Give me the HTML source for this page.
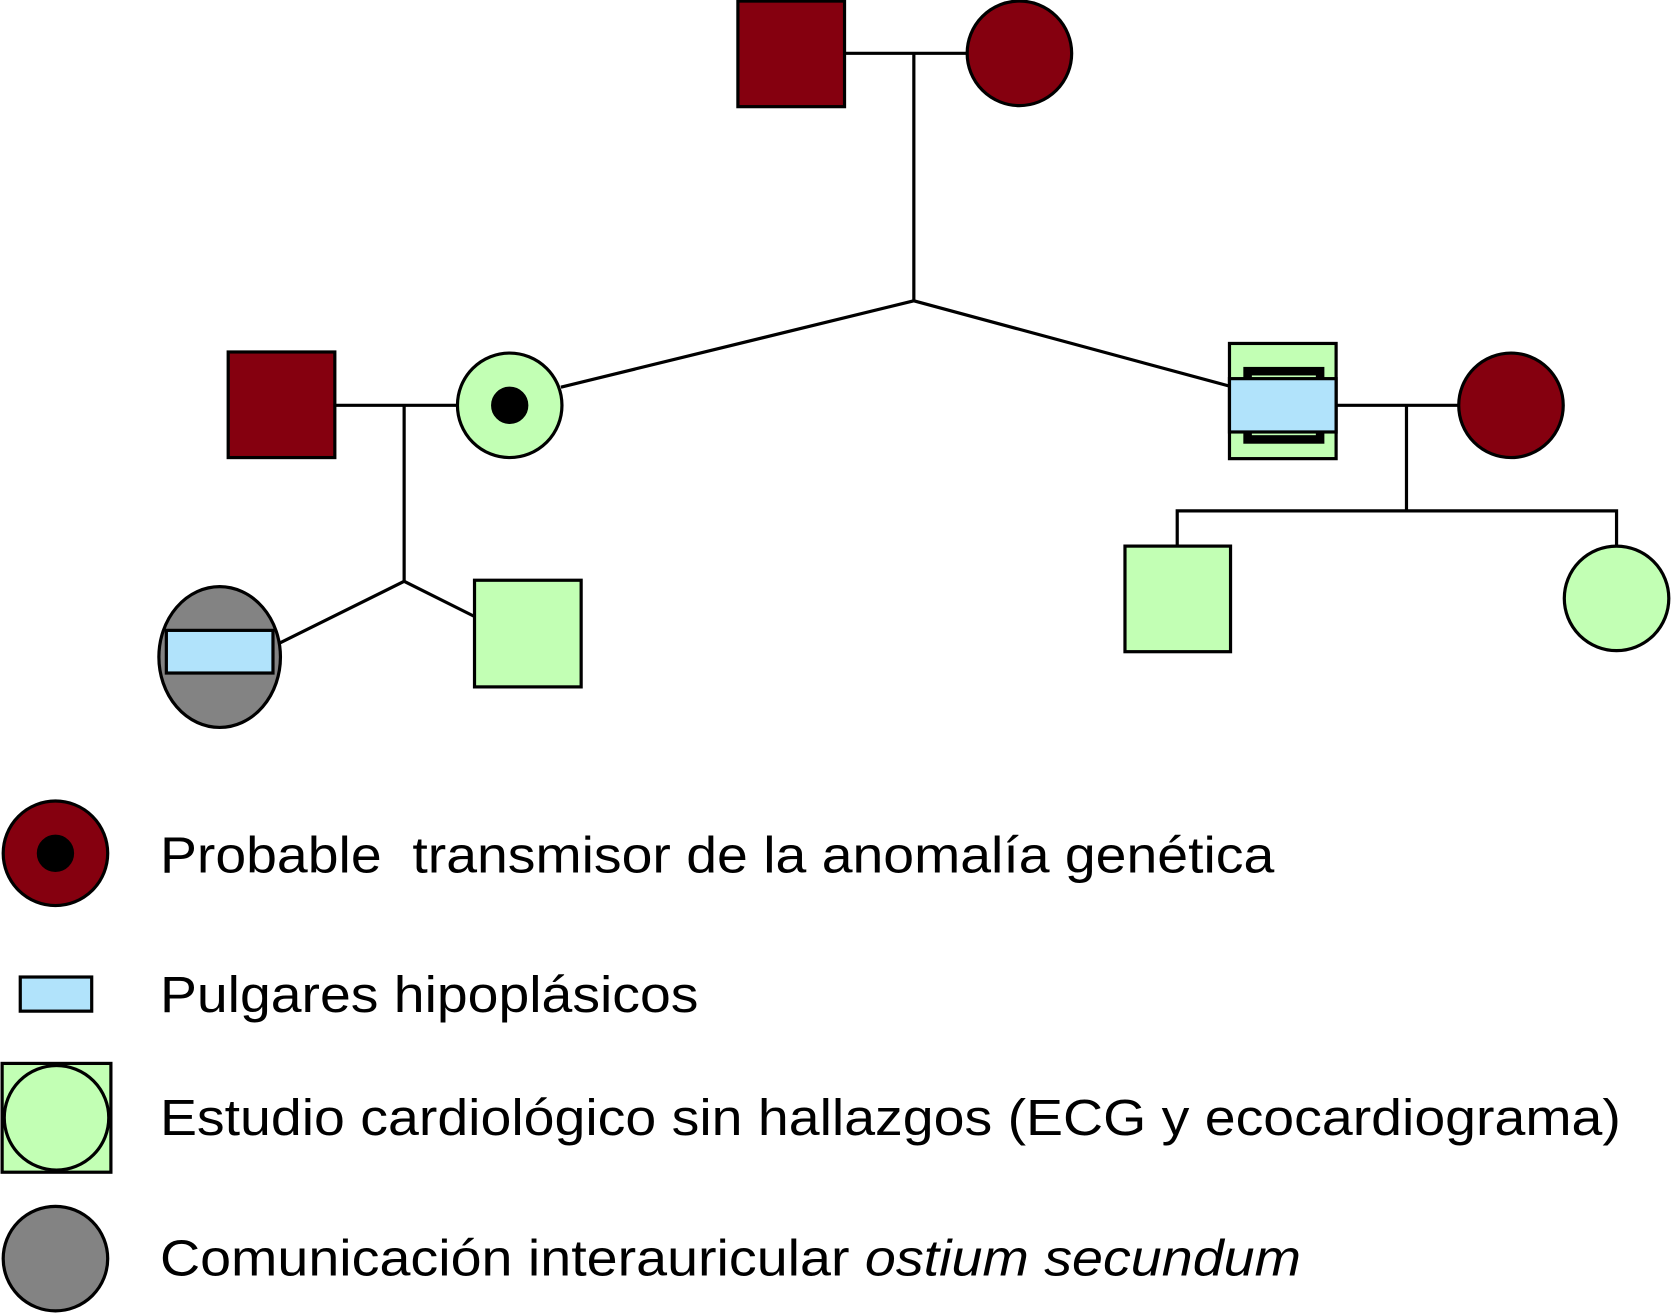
<!DOCTYPE html>
<html><head><meta charset="utf-8"><style>html,body{margin:0;padding:0;background:#fff}svg{display:block}</style></head>
<body>
<svg width="1672" height="1313" viewBox="0 0 1568 1231" preserveAspectRatio="none" xmlns="http://www.w3.org/2000/svg">
<g stroke="#000" stroke-width="3" fill="none">
<line x1="792" y1="50" x2="907" y2="50"/>
<line x1="857" y1="50" x2="857" y2="282"/>
<polyline points="526,363 857,282 1153,362"/>
<line x1="313" y1="380" x2="430" y2="380"/>
<line x1="379" y1="380" x2="379" y2="545"/>
<polyline points="258,605 379,545 445,578"/>
<line x1="1253" y1="380" x2="1368" y2="380"/>
<line x1="1319" y1="380" x2="1319" y2="479"/>
<polyline points="1104,512 1104,479 1516,479 1516,512"/>
</g>
<g stroke="#000" stroke-width="3">
<rect x="692" y="1" width="100" height="99" fill="#85000f"/>
<circle cx="956" cy="50" r="49" fill="#85000f"/>
<rect x="214" y="330" width="100" height="99" fill="#85000f"/>
<circle cx="478" cy="380" r="49" fill="#c2ffb4"/>
<circle cx="478" cy="380" r="16" fill="#000"/>
<rect x="1153" y="322" width="100" height="108" fill="#c2ffb4"/>
<rect x="1170" y="348" width="68" height="64" fill="none" stroke-width="8"/>
<rect x="1153" y="355" width="100" height="50" fill="#b1e3fb"/>
<circle cx="1417" cy="380" r="49" fill="#85000f"/>
<ellipse cx="206" cy="616" rx="57" ry="66" fill="#838383"/>
<rect x="156" y="591" width="100" height="40" fill="#b1e3fb"/>
<rect x="445" y="544" width="100" height="100" fill="#c2ffb4"/>
<rect x="1055" y="512" width="99" height="99" fill="#c2ffb4"/>
<circle cx="1516" cy="561" r="49" fill="#c2ffb4"/>
<circle cx="52" cy="800" r="49" fill="#85000f"/>
<circle cx="52" cy="800" r="16" fill="#000"/>
<rect x="19" y="916" width="67" height="32" fill="#b1e3fb"/>
<rect x="2" y="997" width="102" height="102" fill="#c2ffb4"/>
<circle cx="53" cy="1048" r="49" fill="#c2ffb4"/>
<circle cx="52" cy="1180" r="49" fill="#838383"/>
</g>
<g font-family="Liberation Sans, sans-serif" font-size="48" fill="#000">
<text x="150" y="818" xml:space="preserve" textLength="1045" lengthAdjust="spacingAndGlyphs">Probable  transmisor de la anomalía genética</text>
<text x="150" y="949" textLength="505" lengthAdjust="spacingAndGlyphs">Pulgares hipoplásicos</text>
<text x="150" y="1064" textLength="1370" lengthAdjust="spacingAndGlyphs">Estudio cardiológico sin hallazgos (ECG y ecocardiograma)</text>
<text x="150" y="1196" textLength="1070" lengthAdjust="spacingAndGlyphs">Comunicación interauricular <tspan font-style="italic">ostium secundum</tspan></text>
</g>
</svg>
</body></html>
